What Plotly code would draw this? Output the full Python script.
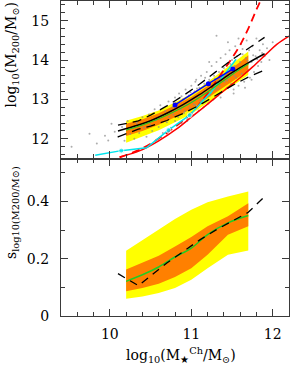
import plotly.graph_objects as go
from plotly.subplots import make_subplots

# ---------------- data ----------------
# top panel: percentile bands of halo mass in stellar-mass bins
band_x = [10.2, 10.4, 10.6, 10.8, 11.0, 11.2, 11.4, 11.6, 11.7]
yel_lo = [11.90, 12.06, 12.22, 12.42, 12.63, 12.90, 13.18, 13.48, 13.62]
yel_hi = [12.46, 12.58, 12.72, 12.92, 13.14, 13.44, 13.76, 14.06, 14.22]
org_lo = [12.07, 12.20, 12.36, 12.55, 12.76, 13.03, 13.31, 13.59, 13.71]
org_hi = [12.38, 12.50, 12.65, 12.85, 13.06, 13.34, 13.64, 13.95, 14.12]
med_y = [12.22, 12.35, 12.51, 12.70, 12.92, 13.19, 13.48, 13.77, 13.90]

# black fit and its scatter
fit_x = [10.1, 10.35, 10.5, 10.7, 10.9, 11.1, 11.3, 11.5, 11.7, 11.9]
fit_y = [12.20, 12.35, 12.46, 12.65, 12.87, 13.12, 13.40, 13.68, 13.93, 14.16]
fit_s = [0.148, 0.106, 0.140, 0.185, 0.225, 0.265, 0.300, 0.330, 0.362, 0.417]

# other relations
blue_x = [10.80, 11.21, 11.51]
blue_y = [12.86, 13.40, 13.77]
cyan_x = [9.82, 10.14, 10.45, 10.72, 10.98, 11.25, 11.55]
cyan_y = [11.58, 11.70, 11.77, 12.22, 12.60, 13.20, 14.02]
cyan_dot = [0, 5, 0, 5, 5, 0, 0]
red_x = [10.12, 10.37, 10.6, 10.82, 11.0, 11.2, 11.4, 11.6, 11.75, 11.92, 12.05, 12.2]
red_y = [11.54, 11.70, 11.95, 12.25, 12.55, 12.88, 13.22, 13.55, 13.82, 14.15, 14.40, 14.61]
redd_x = [10.12, 10.4, 10.7, 11.0, 11.2, 11.4, 11.5, 11.6, 11.7, 11.8, 11.86]
redd_y = [11.53, 11.76, 12.15, 12.65, 13.15, 13.75, 14.05, 14.38, 14.80, 15.28, 15.55]

# simulated galaxies (gray cloud)
pts_x = [9.53, 9.75, 9.84, 9.94, 9.98, 10.02, 10.06, 10.10, 10.15, 10.18, 10.22, 10.25, 10.28, 10.30,
         10.33, 10.36, 10.40, 10.42, 10.45, 10.48, 10.50, 10.52, 10.55, 10.57, 10.60, 10.62, 10.63,
         10.65, 10.68, 10.70, 10.72, 10.73, 10.75, 10.77, 10.78, 10.80, 10.80,
         10.82, 10.84, 10.85, 10.87, 10.88, 10.90, 10.91, 10.93, 10.94, 10.95, 10.97, 10.98, 11.00,
         11.01, 11.02, 11.04, 11.05, 11.06, 11.08, 11.09, 11.10, 11.11, 11.12, 11.14, 11.15, 11.16,
         11.18, 11.19, 11.20, 11.21, 11.22, 11.24, 11.25, 11.26, 11.27, 11.28, 11.30, 11.31, 11.32,
         11.33, 11.34, 11.35, 11.36, 11.37, 11.38, 11.40, 11.41, 11.42, 11.43, 11.44, 11.45, 11.46,
         11.47, 11.48, 11.49, 11.50, 11.51, 11.52, 11.53, 11.54, 11.55, 11.56, 11.57, 11.58, 11.60,
         11.61, 11.62, 11.63, 11.64, 11.65, 11.67, 11.68, 11.70, 11.71, 11.72, 11.74, 11.75, 11.77,
         11.79, 11.80, 11.82, 11.84, 11.86, 11.88, 11.90, 11.93, 11.96, 12.00,
         11.31, 11.45, 11.58, 11.22, 11.66, 11.05, 10.95, 11.36, 11.52, 11.74,
         10.88, 10.92, 10.99, 11.03, 11.07, 11.13, 11.17, 11.23, 11.29, 11.33, 11.39, 11.44, 11.48,
         11.53, 11.59, 11.63, 11.69, 11.76, 11.81, 11.87]
pts_y = [11.80, 12.13, 11.88, 12.08, 11.96, 12.38, 12.18, 12.05, 12.30, 11.95, 12.45, 12.12, 12.28, 12.00,
         12.40, 12.15, 12.55, 12.28, 12.05, 12.62, 12.35, 12.20, 12.75, 12.48, 12.30, 12.85, 12.60,
         12.15, 12.70, 12.42, 12.95, 12.55, 12.28, 12.80, 12.62, 13.05, 12.45,
         12.90, 12.55, 13.15, 12.75, 12.40, 13.00, 12.65, 13.25, 12.85, 12.50, 13.10, 12.78, 13.35,
         12.95, 12.60, 13.20, 12.85, 13.50, 13.05, 12.72, 13.30, 12.95, 13.60, 13.15, 12.80, 13.40,
         13.05, 13.70, 13.25, 12.90, 13.50, 13.15, 13.85, 13.35, 13.00, 13.60, 13.25, 13.95, 13.45,
         13.10, 13.70, 13.35, 14.05, 13.55, 13.20, 13.80, 13.45, 14.15, 13.65, 13.30, 13.90, 13.55,
         14.25, 13.75, 13.40, 14.00, 13.65, 13.15, 13.85, 14.35, 13.55, 14.10, 13.75, 13.35, 13.95,
         14.40, 13.65, 14.15, 13.85, 13.45, 14.05, 14.50, 13.75, 14.25, 13.55, 13.95, 14.35, 13.70,
         14.10, 14.55, 13.85, 14.25, 13.95, 14.40, 14.10, 14.30, 14.00, 14.45,
         14.62, 14.45, 14.55, 13.95, 13.30, 13.45, 12.45, 13.05, 13.25, 13.50,
         13.08, 12.70, 13.18, 12.88, 13.28, 12.98, 13.55, 13.10, 13.52, 13.28, 13.62, 13.48, 13.90,
         13.60, 13.80, 14.28, 13.98, 14.12, 14.02, 14.18]

# bottom panel: scatter of halo mass
bb_x = [10.2, 10.4, 10.6, 10.8, 11.0, 11.2, 11.45, 11.7]
byel_hi = [0.228, 0.266, 0.304, 0.339, 0.371, 0.397, 0.417, 0.435]
borg_hi = [0.162, 0.185, 0.210, 0.243, 0.276, 0.313, 0.348, 0.394]
borg_lo = [0.086, 0.098, 0.113, 0.136, 0.167, 0.214, 0.284, 0.313]
byel_lo = [0.060, 0.068, 0.080, 0.098, 0.127, 0.167, 0.214, 0.229]
bgreen = [0.121, 0.144, 0.171, 0.206, 0.237, 0.284, 0.325, 0.351]

# ---------------- figure ----------------
YEL = '#ffff00'
ORG = '#ff8000'
GRN = '#22cc22'

fig = make_subplots(rows=2, cols=1, shared_xaxes=True, vertical_spacing=0)


def band(x, lo, hi, color, row):
    fig.add_trace(go.Scatter(x=list(x) + list(x)[::-1], y=list(hi) + list(lo)[::-1],
                             fill='toself', fillcolor=color, mode='lines',
                             line=dict(width=0, color=color), hoverinfo='skip'),
                  row=row, col=1)


# top panel
band(band_x, yel_lo, yel_hi, YEL, 1)
band(band_x, org_lo, org_hi, ORG, 1)
fig.add_trace(go.Scatter(x=pts_x, y=pts_y, mode='markers',
                         marker=dict(size=2, color='#8a8a8a', opacity=0.7)), row=1, col=1)
fig.add_trace(go.Scatter(x=red_x, y=red_y, mode='lines', line=dict(color='#ff0000', width=1.5, shape='spline')), row=1, col=1)
fig.add_trace(go.Scatter(x=redd_x, y=redd_y, mode='lines',
                         line=dict(color='#ff0000', width=1.8, dash='8px,5px', shape='spline')), row=1, col=1)
fig.add_trace(go.Scatter(x=cyan_x, y=cyan_y, mode='lines+markers',
                         line=dict(color='#00e5ee', width=1.5),
                         marker=dict(size=cyan_dot, color='#00e5ee')), row=1, col=1)
fig.add_trace(go.Scatter(x=blue_x, y=blue_y, mode='lines+markers',
                         line=dict(color='#0000ff', width=1.5),
                         marker=dict(size=5, color='#0000ff')), row=1, col=1)
up_y = [f + s for f, s in zip(fit_y, fit_s)]
lo_y = [f - s for f, s in zip(fit_y, fit_s)]
for yy in (up_y, lo_y):
    fig.add_trace(go.Scatter(x=fit_x, y=yy, mode='lines',
                             line=dict(color='black', width=1.3, dash='9px,6px')), row=1, col=1)
fig.add_trace(go.Scatter(x=fit_x, y=fit_y, mode='lines',
                         line=dict(color='black', width=1.5, shape='spline')), row=1, col=1)
fig.add_trace(go.Scatter(x=band_x, y=med_y, mode='lines',
                         line=dict(color=GRN, width=1.2, shape='spline')), row=1, col=1)

# bottom panel
band(bb_x, byel_lo, byel_hi, YEL, 2)
band(bb_x, borg_lo, borg_hi, ORG, 2)
fig.add_trace(go.Scatter(x=bb_x, y=bgreen, mode='lines',
                         line=dict(color=GRN, width=1.5, shape='spline')), row=2, col=1)
fig.add_trace(go.Scatter(x=fit_x, y=fit_s, mode='lines',
                         line=dict(color='black', width=1.3, dash='8px,6px')), row=2, col=1)

FONT = 'DejaVu Serif'
axcol = '#3a3a3a'
common = dict(showline=True, linecolor=axcol, linewidth=1.2, mirror='allticks',
              ticks='inside', tickcolor=axcol, tickwidth=1, ticklen=7,
              showgrid=False, zeroline=False,
              tickfont=dict(family=FONT, size=14, color='black'))

fig.update_xaxes(range=[9.4, 12.2], tickvals=[10, 11, 12],
                 minor=dict(dtick=0.2, ticks='inside', ticklen=4, tickcolor=axcol, showgrid=False),
                 **common)
fig.update_xaxes(showticklabels=False, row=1, col=1)
fig.update_xaxes(ticklabelstandoff=5, row=2, col=1)
fig.update_yaxes(range=[11.5, 15.5], tickvals=[12, 13, 14, 15],
                 minor=dict(dtick=0.2, ticks='inside', ticklen=4, tickcolor=axcol, showgrid=False),
                 ticklabelstandoff=8, row=1, col=1, **common)
fig.update_yaxes(range=[0, 0.55], tickvals=[0, 0.2, 0.4], ticktext=['0', '0.2', '0.4'],
                 minor=dict(dtick=0.1, ticks='inside', ticklen=4, tickcolor=axcol, showgrid=False),
                 ticklabelstandoff=8, row=2, col=1, **common)

tf = dict(family=FONT, size=14, color='black')
fig.add_annotation(text='log<sub>10</sub>(M<sub>200</sub>/M<sub>⊙</sub>)', textangle=-90,
                   xref='paper', yref='paper', x=-0.215, y=0.83, xanchor='center', yanchor='middle',
                   showarrow=False, font=tf)
fig.add_annotation(text='s<sub>log10(M200/M⊙)</sub>', textangle=-90,
                   xref='paper', yref='paper', x=-0.215, y=0.33, xanchor='center', yanchor='middle',
                   showarrow=False, font=tf)
fig.add_annotation(text='log<sub>10</sub>(M<sub>★</sub><sup>Ch</sup>/M<sub>⊙</sub>)',
                   xref='paper', yref='paper', x=0.526, y=-0.124, xanchor='center', yanchor='middle',
                   showarrow=False, font=tf)

fig.update_layout(width=291, height=369, margin=dict(l=61, r=2, t=1, b=53),
                  paper_bgcolor='white', plot_bgcolor='white', showlegend=False)

fig.write_html('out.html', config={'displayModeBar': False},
               post_script="document.body.style.margin='0';")
